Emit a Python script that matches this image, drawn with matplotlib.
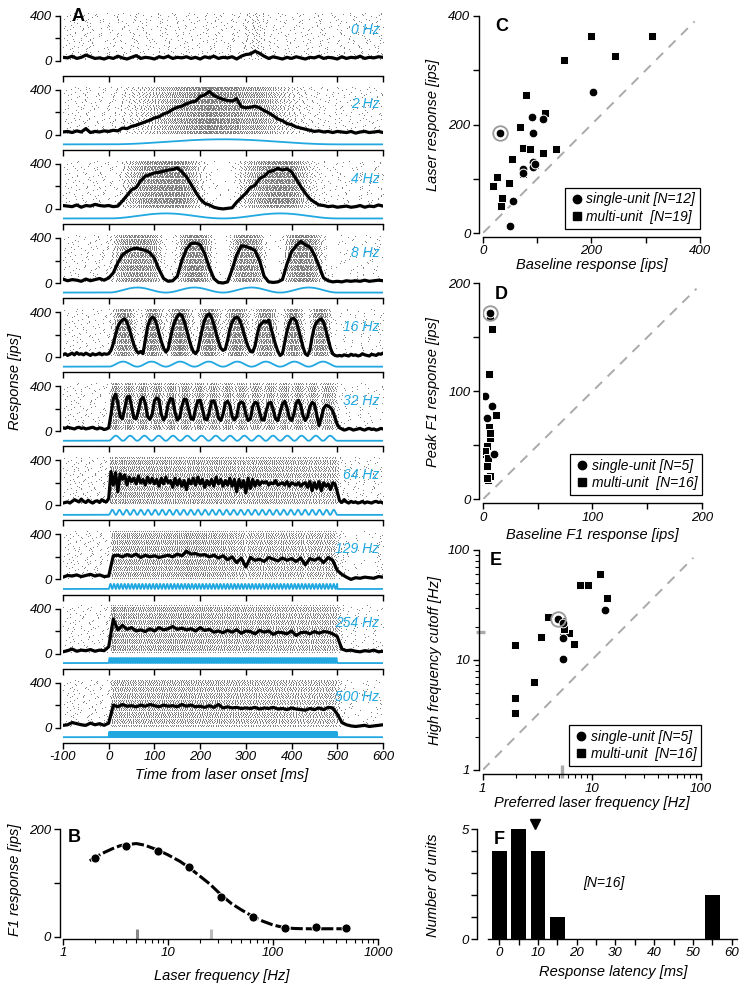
import numpy as np
import matplotlib
matplotlib.use('Agg')
import matplotlib.pyplot as plt
from matplotlib.lines import Line2D

plt.rcParams['font.family'] = ['Liberation Sans', 'DejaVu Sans']
plt.rcParams['font.style'] = 'italic'
plt.rcParams['font.size'] = 9.5
plt.rcParams['axes.unicode_minus'] = False
plt.rcParams['axes.linewidth'] = 1.0
plt.rcParams['xtick.major.width'] = 1.0
plt.rcParams['ytick.major.width'] = 1.0
plt.rcParams['xtick.minor.width'] = 0.8
plt.rcParams['ytick.minor.width'] = 0.8

W, H = 749, 989
LASER = '#21a8e1'

# ---------------- panel A: PSTHs (ips) ----------------
freqs_a = [0, 2, 4, 8, 16, 32, 64, 129, 254, 500]
freq_labels = ['0 Hz', '2 Hz', '4 Hz', '8 Hz', '16 Hz', '32 Hz', '64 Hz', '129 Hz', '254 Hz', '500 Hz']
psth_dt = [10, 10, 10, 10, 5, 5, 5, 10, 10, 10]  # bin width, ms (first bin at -100 ms)

psth_0hz = [30, 25, 40, 20, 30, 50, 35, 20, 25, 15,
            30, 20, 40, 25, 15, 30, 45, 20, 30, 25,
            15, 35, 25, 40, 20, 30, 25, 35, 20, 30,
            15, 35, 25, 40, 20, 30, 25, 35, 15, 40,
            55, 60, 85, 65, 40, 20, 35, 25, 15, 30,
            20, 35, 25, 15, 30, 25, 40, 20, 30, 25,
            15, 35, 20, 30, 25, 40, 20, 30, 25, 35, 30]
psth_2hz = [25, 30, 20, 35, 25, 55, 20, 30, 25, 35,
            30, 40, 35, 60, 55, 75, 85, 100, 115, 130,
            150, 160, 185, 200, 225, 245, 255, 275, 290, 300,
            340, 355, 385, 350, 330, 315, 305, 300, 320, 250,
            240, 245, 255, 240, 215, 195, 170, 140, 125, 100,
            90, 70, 60, 50, 40, 30, 35, 25, 30, 20,
            30, 25, 20, 30, 15, 25, 30, 20, 25, 30, 20]
psth_4hz = [30, 25, 20, 35, 15, 30, 25, 40, 30, 25,
            30, 20, 25, 70, 120, 170, 190, 250, 290, 305,
            320, 325, 335, 345, 350, 365, 330, 285, 220, 150,
            90, 50, 35, 15, 5, 0, 5, 10, 60, 100,
            140, 190, 210, 270, 290, 330, 340, 360, 345, 355,
            330, 265, 200, 140, 90, 60, 35, 30, 20, 25,
            15, 20, 25, 15, 20, 30, 15, 25, 20, 35, 25]
psth_8hz = [35, 20, 30, 25, 15, 35, 20, 30, 40, 25,
            45, 90, 180, 250, 280, 300, 310, 300, 290, 270,
            220, 120, 40, 15, 20, 60, 200, 300, 350, 355,
            340, 260, 140, 40, 5, 0, 10, 120, 250, 330,
            325, 310, 290, 200, 60, 10, 5, 10, 30, 170,
            280, 330, 370, 340, 320, 250, 150, 45, 20, 10,
            15, 10, 20, 15, 20, 15, 25, 15, 20, 25, 20]
psth_16hz = [20, 30, 15, 25, 35, 20, 40, 25, 30, 20, 35, 25, 15, 30, 20, 25, 35, 20, 30, 25,
             30, 60, 120, 200, 270, 310, 330, 340, 310, 250, 180, 110, 60, 35, 50, 30, 150, 270, 330, 355,
             340, 290, 210, 140, 80, 45, 70, 170, 260, 320, 360, 385, 370, 320, 250, 170, 100, 50, 30, 60,
             160, 260, 330, 370, 385, 350, 290, 210, 140, 80, 60, 70, 150, 250, 310, 345, 355, 340, 290, 220,
             150, 90, 50, 45, 100, 200, 280, 300, 320, 310, 330, 260, 180, 110, 50, 15, 30, 130, 230, 300,
             340, 345, 320, 250, 170, 90, 30, 15, 60, 180, 270, 310, 330, 340, 310, 240, 160, 80, 30, 15,
             10, 15, 10, 20, 15, 10, 25, 15, 20, 10, 15, 30, 20, 15, 10, 25, 20, 15, 30, 25, 35]
psth_32hz = [30, 25, 35, 30, 25, 20, 30, 35, 25, 30, 20, 25, 30, 35, 25, 20, 30, 25, 15, 20,
             30, 150, 290, 330, 250, 130, 110, 200, 300, 310, 220, 120, 110, 180, 280, 300, 250, 130, 105, 150,
             270, 295, 280, 150, 100, 130, 240, 290, 285, 170, 100, 120, 220, 285, 280, 190, 110, 105, 200, 270,
             275, 200, 110, 100, 170, 265, 270, 215, 120, 95, 150, 250, 265, 230, 130, 100, 130, 240, 260, 245,
             150, 95, 110, 220, 255, 250, 170, 100, 100, 190, 250, 255, 190, 110, 95, 170, 240, 265, 210, 120,
             95, 150, 250, 275, 230, 140, 95, 130, 220, 255, 240, 150, 50, 120, 200, 230, 225, 210, 180, 120,
             60, 30, 20, 10, 15, 25, 20, 10, 15, 20, 25, 15, 10, 20, 25, 15, 20, 10, 15, 25, 20]
psth_64hz = [20, 25, 30, 20, 35, 50, 40, 30, 55, 35, 25, 45, 30, 20, 35, 40, 25, 50, 35, 30,
             60, 300, 180, 290, 120, 280, 230, 270, 180, 250, 210, 240, 190, 260, 200, 230, 180, 250, 200, 240,
             190, 230, 170, 240, 190, 250, 200, 220, 160, 240, 180, 230, 170, 220, 140, 230, 190, 240, 180, 250,
             190, 230, 160, 220, 180, 230, 170, 250, 190, 230, 170, 220, 180, 240, 170, 230, 120, 230, 160, 220,
             110, 240, 150, 230, 170, 220, 180, 210, 200, 210, 180, 200, 190, 220, 180, 190, 200, 180, 210, 170,
             200, 190, 180, 200, 170, 190, 200, 160, 210, 130, 200, 150, 210, 130, 200, 170, 190, 140, 200, 190,
             120, 40, 25, 50, 30, 20, 35, 25, 30, 20, 25, 35, 20, 30, 25, 20, 30, 35, 25, 30, 20]
psth_129hz = [20, 35, 30, 40, 25, 35, 45, 30, 40, 25,
              30, 210, 215, 200, 220, 205, 225, 195, 215, 200,
              210, 195, 205, 215, 200, 225, 210, 250, 225, 230,
              215, 220, 200, 215, 190, 210, 175, 200, 150, 190,
              110, 195, 170, 180, 160, 195, 180, 165, 190, 170,
              185, 160, 190, 130, 185, 170, 190, 150, 195, 170,
              80, 45, 20, 0, 15, 10, 20, 15, 10, 25, 20]
psth_254hz = [15, 25, 40, 20, 30, 25, 35, 20, 30, 25,
              60, 305, 210, 250, 215, 230, 200, 210, 195, 220,
              200, 230, 210, 220, 240, 215, 225, 210, 220, 200,
              230, 205, 215, 190, 200, 185, 205, 190, 210, 180,
              200, 195, 175, 205, 190, 200, 170, 190, 185, 175,
              200, 160, 185, 190, 175, 195, 180, 195, 190, 175,
              150, 40, 25, 30, 20, 15, 25, 20, 30, 15, 20]
psth_500hz = [20, 25, 45, 35, 25, 20, 40, 25, 35, 20,
              40, 200, 185, 205, 190, 195, 185, 200, 190, 205,
              195, 185, 200, 190, 195, 185, 205, 190, 200, 185,
              190, 180, 195, 180, 205, 175, 185, 175, 180, 170,
              175, 170, 180, 165, 175, 170, 180, 165, 170, 160,
              175, 165, 160, 155, 170, 160, 175, 160, 180, 175,
              120, 45, 25, 15, 10, 15, 20, 10, 15, 20, 25]
psth_all = [psth_0hz, psth_2hz, psth_4hz, psth_8hz, psth_16hz,
            psth_32hz, psth_64hz, psth_129hz, psth_254hz, psth_500hz]
laser_on, laser_off = 0, 500  # ms

# ---------------- panel B ----------------
b_freq = [2, 4, 8, 16, 32, 64, 129, 254, 500]
b_f1 = [147, 169, 159, 129, 74, 36, 16, 19, 16]
b_fit_freq = [1.8, 2, 2.5, 3, 3.5, 4, 5, 6, 8, 10, 13, 16, 20, 25, 32, 40, 50, 64, 80,
              100, 129, 160, 200, 254, 320, 400, 500]
b_fit_f1 = [141, 147, 157, 164, 169, 171, 173, 170, 161, 152, 140, 128, 113, 98, 78, 62, 50, 38, 29,
            22, 17, 15.5, 15, 15, 15, 15, 15]
b_pref_freq = 5.1
b_cutoff_freq = 25.5

# ---------------- panel C ----------------
c_single_base = [31, 90, 111, 92, 92, 73, 55, 50, 202, 93, 74, 96]
c_single_laser = [185, 213, 211, 185, 131, 118, 59, 13, 259, 122, 111, 127]
c_multi_base = [68, 114, 73, 87, 110, 135, 54, 74, 26, 48, 19, 35, 33, 199, 311, 244, 149, 80, 95]
c_multi_laser = [196, 222, 157, 154, 147, 155, 137, 109, 103, 93, 87, 65, 50, 363, 363, 326, 319, 254, 125]
c_example = (31, 185)

# ---------------- panel D ----------------
d_single_base = [6.4, 1.8, 7.9, 3.4, 10]
d_single_f1 = [172.5, 95.5, 86, 75.5, 42]
d_multi_base = [8.5, 5.5, 11.6, 5.5, 6.4, 3.4, 1.8, 4.8, 3.9, 4.8, 6.4, 6.4, 2, 6, 4, 5]
d_multi_f1 = [157.5, 116, 78, 66.5, 56.4, 49.6, 42, 34, 30.8, 17.8, 169, 61, 45, 22, 20, 38]
d_example = (6.4, 172.5)

# ---------------- panel E ----------------
e_single_pref = [4.94, 5.42, 5.42, 5.42, 13.2]
e_single_cut = [23.4, 21.5, 16, 10.2, 28.5]
e_multi_pref = [3.95, 3.4, 2.96, 6.92, 7.8, 9.3, 11.9, 13.7, 5.42, 6.23, 1.98, 1.98, 1.98, 5.42, 5.3, 5.6]
e_multi_cut = [24.4, 16.3, 6.27, 14, 47.8, 48.3, 60.1, 36.4, 18.5, 17.5, 13.7, 4.5, 3.3, 20, 22.5, 19]
e_example = (4.94, 23.4)
e_median_pref = 5.35
e_median_cut = 17.8

# ---------------- panel F ----------------
f_bin_centers = [0, 5, 10, 15, 20, 25, 30, 35, 40, 45, 50, 55]
f_counts = [4, 5, 4, 1, 0, 0, 0, 0, 0, 0, 0, 2]
f_mean_latency = 9.3


fig = plt.figure(figsize=(W / 100, H / 100), dpi=100)


def add_ax(x0, y0, x1, y1):
    return fig.add_axes([x0 / W, 1 - y1 / H, (x1 - x0) / W, (y1 - y0) / H])


def ftext(px, py, s, **kw):
    fig.text(px / W, 1 - py / H, s, **kw)


def clean(ax):
    ax.spines['top'].set_visible(False)
    ax.spines['right'].set_visible(False)
    ax.tick_params(direction='out', length=4, pad=2)


def radical_inverse(n, base):
    # van der Corput value of n in the given base
    v, f = 0.0, 1.0 / base
    while n > 0:
        v += f * (n % base)
        n //= base
        f /= base
    return v


def raster_times(t, vals, dt, phase, gain):
    # dot times of one raster row: crossings of the cumulative expected count
    counts = gain * np.asarray(vals, float) * dt / 1000.0
    edges = np.concatenate([[t[0] - dt / 2], t + dt / 2])
    cum = np.concatenate([[0], np.cumsum(counts)])
    k = np.arange(1, int(cum[-1] + phase) + 1) - phase
    return np.interp(k, cum, edges)


# ---------- A ----------
k = 45 / 400.0
n_rows = 40
row_y = np.linspace(8, 418, n_rows)
for i, f in enumerate(freqs_a):
    zero = 60.7 + 74.1 * i
    ax = add_ax(63, zero - 430 * k, 383, zero + 135 * k)
    ax.set_xlim(-100, 600)
    ax.set_ylim(-135, 430)
    vals = np.array(psth_all[i], float)
    dt = psth_dt[i]
    t = -100 + dt * np.arange(len(vals))
    xs, ys = [], []
    for j in range(n_rows):
        n = j + 1 + n_rows * i
        phase = radical_inverse(n, 2)
        gain = 0.8 + 0.4 * radical_inverse(n, 3)
        st = raster_times(t, vals, dt, phase, gain)
        st = st[(st >= -100) & (st <= 600)]
        xs.append(st)
        ys.append(np.full(len(st), row_y[j]))
    ax.plot(np.concatenate(xs), np.concatenate(ys), ',', color='0.5')
    ax.plot(t, vals, color='k', lw=2.3, solid_joinstyle='round')
    if f > 0:
        ts = np.arange(-100, 600.001, 0.05)
        on = (ts >= laser_on) & (ts <= laser_off)
        drive = np.where(on, (1 - np.cos(2 * np.pi * f * ts / 1000.0)) / 2, 0)
        ax.plot(ts, -85 + 45 * drive, color=LASER, lw=1.3)
    ax.text(592, 270, freq_labels[i], color=LASER, ha='right', va='center', fontsize=10)
    clean(ax)
    ax.spines['left'].set_bounds(0, 400)
    ax.spines['left'].set_position(('outward', 2.5))
    ax.spines['bottom'].set_bounds(-100, 600)
    ax.set_yticks([0, 200, 400], ['0', '', '400'])
    ax.tick_params(axis='y', length=3.5)
    ax.set_xticks(np.arange(-100, 601, 100))
    if i < len(freqs_a) - 1:
        ax.set_xticklabels([])
    if i == 0:
        ax.text(-81, 390, 'A', fontsize=13, fontweight='bold', fontstyle='normal', va='center')

ftext(15, 381, 'Response [ips]', rotation=90, ha='center', va='center', fontsize=10.5)
ftext(222, 775, 'Time from laser onset [ms]', ha='center', va='center', fontsize=10.5)

# ---------- B ----------
ax = add_ax(63, 829, 378, 939)
ax.set_xscale('log')
ax.set_xlim(1, 1000)
ax.set_ylim(-4, 200)
ax.plot(b_fit_freq, b_fit_f1, color='k', lw=2.2, dashes=(4, 1))
ax.plot(b_freq, b_f1, 'o', color='k', ms=6.5, mec='white', mew=0.6)
for fx_, col in [(b_pref_freq, '#888888'), (b_cutoff_freq, '#bbbbbb')]:
    ax.plot([fx_, fx_], [-4, 14], color=col, lw=2.2, solid_capstyle='butt')
clean(ax)
ax.spines['left'].set_bounds(0, 200)
ax.spines['left'].set_position(('outward', 2.5))
ax.set_yticks([0, 100, 200], ['0', '', '200'])
ax.set_xticks([1, 10, 100, 1000], ['1', '10', '100', '1000'])
ax.tick_params(axis='x', which='minor', direction='out', length=3)
ax.text(1.12, 185, 'B', fontsize=13, fontweight='bold', fontstyle='normal', va='center')
ftext(15, 880, 'F1 response [ips]', rotation=90, ha='center', va='center', fontsize=10.5)
ftext(222, 976, 'Laser frequency [Hz]', ha='center', va='center', fontsize=10.5)


def scatter_panel(ax, sx, sy, mx, my, ex, n_single, n_multi, diag_end):
    ax.plot([ax.get_xlim()[0], diag_end], [ax.get_ylim()[0], diag_end], color='#aaaaaa',
            lw=1.4, dashes=(5, 4))
    ax.plot(mx, my, 's', color='k', ms=6, mec='white', mew=0.7, ls='none')
    ax.plot(sx, sy, 'o', color='k', ms=6.3, mec='white', mew=0.7, ls='none')
    ax.plot([ex[0]], [ex[1]], 'o', mfc='none', mec='#999999', ms=10.5, mew=1.3)
    handles = [Line2D([], [], marker='o', color='k', ls='none', ms=6),
               Line2D([], [], marker='s', color='k', ls='none', ms=6)]
    leg = ax.legend(handles, ['single-unit [N=%d]' % n_single, 'multi-unit  [N=%d]' % n_multi],
                    loc='lower right', bbox_to_anchor=(1.02, 0.0), fancybox=False, edgecolor='k',
                    framealpha=1, handletextpad=0.2, handlelength=1.0, borderpad=0.35,
                    labelspacing=0.25, borderaxespad=0.3, fontsize=10)
    leg.get_frame().set_linewidth(0.9)
    clean(ax)
    ax.spines['left'].set_position(('outward', 3))
    ax.spines['bottom'].set_position(('outward', 3))
    return leg


# ---------- C ----------
ax = add_ax(483, 16, 700, 233)
ax.set_xlim(0, 400)
ax.set_ylim(0, 400)
scatter_panel(ax, c_single_base, c_single_laser, c_multi_base, c_multi_laser, c_example, 12, 19, 390)
ax.set_xticks([0, 100, 200, 300, 400], ['0', '', '200', '', '400'])
ax.set_yticks([0, 100, 200, 300, 400], ['0', '', '200', '', '400'])
ax.text(22, 380, 'C', fontsize=13, fontweight='bold', fontstyle='normal', va='center')
ftext(433, 125, 'Laser response [ips]', rotation=90, ha='center', va='center', fontsize=10.5)
ftext(592, 265, 'Baseline response [ips]', ha='center', va='center', fontsize=10.5)

# ---------- D ----------
ax = add_ax(483, 283.3, 702, 499.3)
ax.set_xlim(0, 200)
ax.set_ylim(0, 200)
scatter_panel(ax, d_single_base, d_single_f1, d_multi_base, d_multi_f1, d_example, 5, 16, 195)
ax.set_xticks([0, 50, 100, 150, 200], ['0', '', '100', '', '200'])
ax.set_yticks([0, 50, 100, 150, 200], ['0', '', '100', '', '200'])
ax.text(11, 190, 'D', fontsize=13, fontweight='bold', fontstyle='normal', va='center')
ftext(433, 392, 'Peak F1 response [ips]', rotation=90, ha='center', va='center', fontsize=10.5)
ftext(592, 535, 'Baseline F1 response [ips]', ha='center', va='center', fontsize=10.5)

# ---------- E ----------
ax = add_ax(482.7, 550, 701, 770)
ax.set_xscale('log')
ax.set_yscale('log')
ax.set_xlim(1, 100)
ax.set_ylim(1, 100)
scatter_panel(ax, e_single_pref, e_single_cut, e_multi_pref, e_multi_cut, e_example, 5, 16, 85)
ax.set_xticks([1, 10, 100], ['1', '10', '100'])
ax.set_yticks([1, 10, 100], ['1', '10', '100'])
ax.tick_params(which='minor', direction='out', length=3)
ax.plot([e_median_pref, e_median_pref], [0.85, 1.1], color='#aaaaaa', lw=2.4,
        clip_on=False, solid_capstyle='butt')
ax.plot([0.86, 1.04], [e_median_cut, e_median_cut], color='#aaaaaa', lw=2.4,
        clip_on=False, solid_capstyle='butt')
ax.text(1.17, 80, 'E', fontsize=13, fontweight='bold', fontstyle='normal', va='center')
ftext(435, 660, 'High frequency cutoff [Hz]', rotation=90, ha='center', va='center', fontsize=10.5)
ftext(592, 803, 'Preferred laser frequency [Hz]', ha='center', va='center', fontsize=10.5)

# ---------- F ----------
ax = add_ax(488.3, 829.3, 736.7, 939)
ax.set_xlim(-2.8, 61.3)
ax.set_ylim(0, 5)
ax.bar(f_bin_centers, f_counts, width=3.8, color='k')
ax.plot([f_mean_latency], [5.22], 'v', color='k', ms=7, clip_on=False)
ax.text(27, 2.55, '[N=16]', ha='center', va='center', fontsize=10)
clean(ax)
ax.spines['left'].set_position(('outward', 8))
ax.set_xticks(np.arange(0, 61, 5), [str(v) if v % 10 == 0 else '' for v in range(0, 61, 5)])
ax.set_yticks([0, 1, 2, 3, 4, 5], ['0', '', '', '', '', '5'])
ax.text(-1.5, 4.55, 'F', fontsize=13, fontweight='bold', fontstyle='normal', va='center')
ftext(433, 885, 'Number of units', rotation=90, ha='center', va='center', fontsize=10.5)
ftext(613, 972, 'Response latency [ms]', ha='center', va='center', fontsize=10.5)

fig.savefig('out.png', dpi=100)
